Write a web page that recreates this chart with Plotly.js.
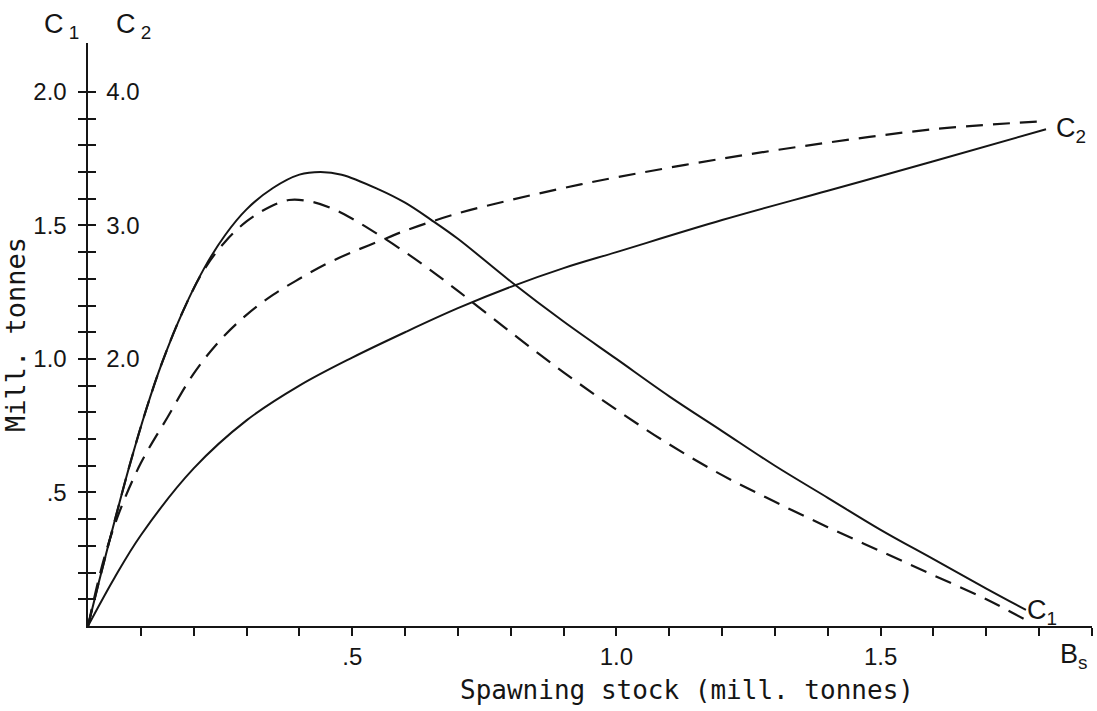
<!DOCTYPE html>
<html>
<head>
<meta charset="utf-8">
<script src="https://cdn.plot.ly/plotly-3.0.1.min.js"></script>
<style>
  html, body { margin: 0; padding: 0; background: #ffffff; }
  #chart { width: 1097px; height: 711px; }
</style>
</head>
<body>
<div id="chart"></div>
<script>
// ---- Data ----
// C1 curves (left-hand scale, mill. tonnes) against spawning stock Bs (mill. tonnes)
const xC1Solid = [0, 0.02, 0.05, 0.08, 0.11, 0.14, 0.18, 0.22, 0.26, 0.30, 0.35, 0.40, 0.44, 0.48, 0.55, 0.60, 0.65, 0.70, 0.80, 0.90, 1.0, 1.1, 1.2, 1.3, 1.4, 1.5, 1.6, 1.7, 1.775];
const yC1Solid = [0, 0.16, 0.39, 0.61, 0.81, 0.985, 1.18, 1.34, 1.465, 1.56, 1.64, 1.69, 1.70, 1.69, 1.635, 1.585, 1.52, 1.45, 1.29, 1.14, 1.00, 0.86, 0.73, 0.60, 0.48, 0.36, 0.25, 0.14, 0.06];

const xC1Dashed = [0, 0.02, 0.05, 0.08, 0.11, 0.14, 0.18, 0.22, 0.26, 0.30, 0.34, 0.38, 0.42, 0.46, 0.50, 0.55, 0.60, 0.65, 0.70, 0.80, 0.90, 1.0, 1.1, 1.2, 1.3, 1.4, 1.5, 1.6, 1.7, 1.775];
const yC1Dashed = [0, 0.16, 0.39, 0.61, 0.81, 0.985, 1.18, 1.335, 1.44, 1.515, 1.565, 1.595, 1.59, 1.565, 1.525, 1.465, 1.40, 1.33, 1.255, 1.10, 0.95, 0.81, 0.68, 0.565, 0.465, 0.37, 0.28, 0.19, 0.10, 0.022];

// C2 curves, values on the C2 (right-hand) scale
const xC2Dashed = [0, 0.03, 0.06, 0.1, 0.15, 0.2, 0.25, 0.3, 0.35, 0.4, 0.45, 0.5, 0.55, 0.6, 0.7, 0.8, 0.9, 1.0, 1.2, 1.4, 1.6, 1.805];
const yC2Dashed = [0, 0.50, 0.86, 1.22, 1.56, 1.89, 2.14, 2.33, 2.48, 2.60, 2.71, 2.80, 2.88, 2.96, 3.09, 3.19, 3.28, 3.36, 3.50, 3.62, 3.72, 3.78];

const xC2Solid = [0, 0.05, 0.1, 0.2, 0.3, 0.4, 0.5, 0.6, 0.7, 0.8, 0.9, 1.0, 1.2, 1.4, 1.6, 1.813];
const yC2Solid = [0, 0.36, 0.68, 1.18, 1.54, 1.80, 2.01, 2.20, 2.38, 2.54, 2.68, 2.80, 3.04, 3.26, 3.48, 3.72];

// Labelled ticks
const xTickVals = [0.5, 1.0, 1.5];
const xTickText = ['.5', '1.0', '1.5'];
const yC1TickVals = [0.5, 1.0, 1.5, 2.0];
const yC1TickText = ['.5', '1.0', '1.5', '2.0'];
const yC2TickVals = [2.0, 3.0, 4.0];
const yC2TickText = ['2.0', '3.0', '4.0'];
// Unlabelled (minor) ticks
const xMinorVals = [0.1, 0.2, 0.3, 0.4, 0.6, 0.7, 0.8, 0.9, 1.1, 1.2, 1.3, 1.4, 1.6, 1.7, 1.8, 1.9];
const yC1MinorVals = [0.1, 0.2, 0.3, 0.4, 0.6, 0.7, 0.8, 0.9, 1.1, 1.2, 1.3, 1.4, 1.6, 1.7, 1.8, 1.9];
const yC2MinorVals = [0.2, 0.4, 0.6, 0.8, 1.0, 1.2, 1.4, 1.6, 1.8, 2.2, 2.4, 2.6, 2.8, 3.2, 3.4, 3.6, 3.8];

// ---- Styling ----
const ink = '#151515';
const sans = '"Liberation Sans", Arial, sans-serif';
const mono = '"DejaVu Sans Mono", "Liberation Mono", monospace';
const dashStyle = '17px,10px';

const traces = [
  { x: xC1Solid, y: yC1Solid, type: 'scatter', mode: 'lines', name: 'C1',
    line: { color: ink, width: 2, shape: 'spline', smoothing: 1 }, yaxis: 'y' },
  { x: xC1Dashed, y: yC1Dashed, type: 'scatter', mode: 'lines', name: 'C1 (dashed)',
    line: { color: ink, width: 2.2, dash: dashStyle, shape: 'spline', smoothing: 1 }, yaxis: 'y' },
  { x: xC2Dashed, y: yC2Dashed, type: 'scatter', mode: 'lines', name: 'C2 (dashed)',
    line: { color: ink, width: 2.2, dash: dashStyle, shape: 'spline', smoothing: 1 }, yaxis: 'y2' },
  { x: xC2Solid, y: yC2Solid, type: 'scatter', mode: 'lines', name: 'C2',
    line: { color: ink, width: 2, shape: 'spline', smoothing: 1 }, yaxis: 'y2' }
];

const yTop = 2.183;
const tickStyle = { ticklen: 8, tickwidth: 2, tickcolor: ink };

const layout = {
  width: 1097, height: 711,
  paper_bgcolor: '#ffffff', plot_bgcolor: '#ffffff',
  showlegend: false,
  margin: { l: 88, r: 5, t: 43, b: 85 },
  xaxis: Object.assign({
    range: [0, 1.9], showgrid: false, zeroline: false,
    showline: true, linecolor: ink, linewidth: 2,
    tickmode: 'array', tickvals: xTickVals, ticktext: xTickText,
    ticks: 'outside', ticklabelstandoff: 0,
    tickfont: { family: sans, size: 24, color: ink },
    minor: Object.assign({ tickmode: 'array', tickvals: xMinorVals, ticks: 'outside', showgrid: false }, tickStyle)
  }, tickStyle),
  yaxis: Object.assign({
    range: [0, yTop], showgrid: false, zeroline: false,
    showline: true, linecolor: ink, linewidth: 2.5,
    tickmode: 'array', tickvals: yC1TickVals, ticktext: yC1TickText,
    ticks: 'outside', ticklabelstandoff: 6,
    tickfont: { family: sans, size: 24, color: ink },
    minor: Object.assign({ tickmode: 'array', tickvals: yC1MinorVals, ticks: 'outside', showgrid: false }, tickStyle),
    title: { text: 'Mill. tonnes', font: { family: mono, size: 27, color: ink }, standoff: 12 }
  }, tickStyle),
  yaxis2: Object.assign({
    range: [0, 2 * yTop], overlaying: 'y', side: 'left', anchor: 'x',
    showgrid: false, zeroline: false, showline: false,
    tickmode: 'array', tickvals: yC2TickVals, ticktext: yC2TickText,
    ticks: 'inside', ticklabelposition: 'inside', ticklabelstandoff: 12,
    tickfont: { family: sans, size: 24, color: ink },
    minor: Object.assign({ tickmode: 'array', tickvals: yC2MinorVals, ticks: 'inside', showgrid: false }, tickStyle)
  }, tickStyle),
  annotations: [
    { text: 'Spawning stock (mill. tonnes)', xref: 'paper', yref: 'paper', x: 0.597, y: 0,
      xanchor: 'center', yanchor: 'middle', yshift: -64, showarrow: false,
      font: { family: mono, size: 26, color: ink } },
    { text: 'B<sub>s</sub>', xref: 'paper', yref: 'paper', x: 0.982, y: -0.0515,
      xanchor: 'center', yanchor: 'middle', showarrow: false,
      font: { family: sans, size: 27, color: ink } },
    { text: 'C<sub> 1</sub>', xref: 'paper', yref: 'paper', x: -0.0259, y: 1.029,
      xanchor: 'center', yanchor: 'middle', showarrow: false,
      font: { family: sans, size: 27, color: ink } },
    { text: 'C<sub> 2</sub>', xref: 'paper', yref: 'paper', x: 0.0458, y: 1.029,
      xanchor: 'center', yanchor: 'middle', showarrow: false,
      font: { family: sans, size: 27, color: ink } },
    { text: 'C<sub>2</sub>', xref: 'x', yref: 'y', x: 1.86, y: 1.858,
      xanchor: 'center', yanchor: 'middle', showarrow: false,
      font: { family: sans, size: 27, color: ink } },
    { text: 'C<sub>1</sub>', xref: 'x', yref: 'y', x: 1.805, y: 0.052,
      xanchor: 'center', yanchor: 'middle', showarrow: false,
      font: { family: sans, size: 27, color: ink } }
  ]
};

Plotly.newPlot('chart', traces, layout, { displayModeBar: false, staticPlot: true });
</script>
</body>
</html>
